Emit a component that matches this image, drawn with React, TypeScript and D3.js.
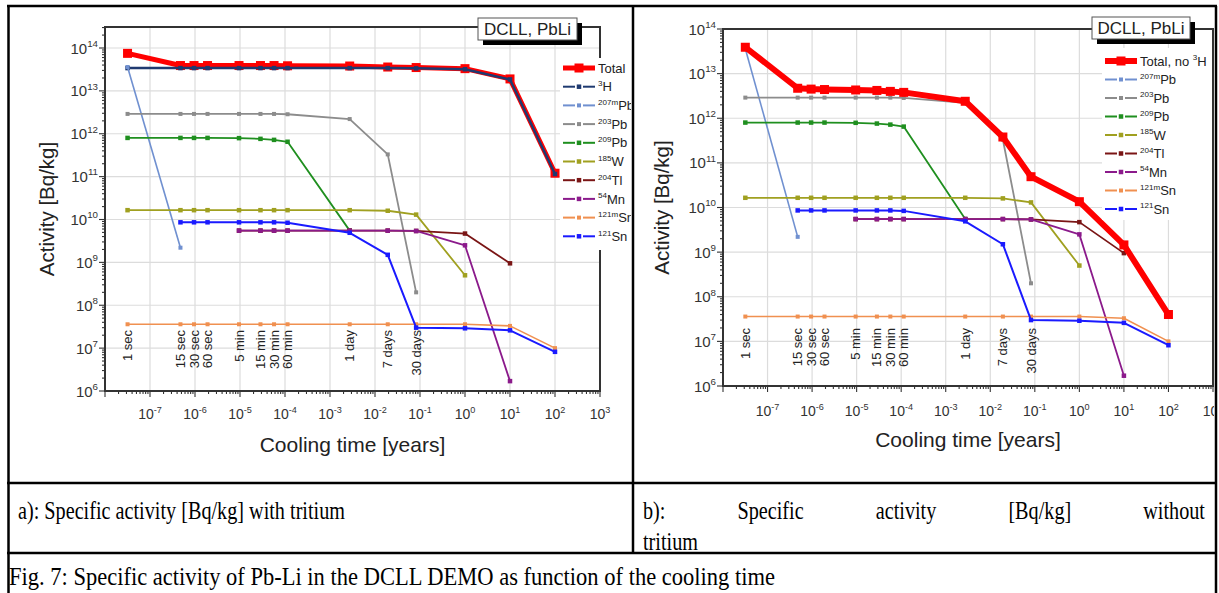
import { useEffect, useRef } from 'react';
import * as d3 from 'd3';

// cooling time in years: 1 s, 15 s, 30 s, 60 s, 5 min, 15 min, 30 min, 60 min, 1 d, 7 d, 30 d, 1 y, 10 y, 100 y
const coolingYears = [3.17e-8, 4.75e-7, 9.51e-7, 1.9e-6, 9.51e-6, 2.85e-5, 5.71e-5, 1.14e-4, 2.74e-3, 1.92e-2, 8.21e-2, 1, 10, 100];
const timeLabels = ['1 sec', '15 sec', '30 sec', '60 sec', '5 min', '15 min', '30 min', '60 min', '1 day', '7 days', '30 days'];

const totalWithH3 = [7.5e13, 3.9e13, 3.9e13, 3.9e13, 3.9e13, 3.9e13, 3.9e13, 3.85e13, 3.8e13, 3.6e13, 3.5e13, 3.3e13, 1.9e13, 1.2e11];
const totalNoH3 = [3.9e13, 4.7e12, 4.5e12, 4.4e12, 4.3e12, 4.2e12, 4.0e12, 3.8e12, 2.4e12, 3.8e11, 4.9e10, 1.35e10, 1.45e9, 4.0e7];
const h3 = [3.4e13, 3.4e13, 3.4e13, 3.4e13, 3.4e13, 3.4e13, 3.4e13, 3.4e13, 3.4e13, 3.4e13, 3.35e13, 3.2e13, 1.85e13, 1.15e11];
const pb207m = [3.6e13, 2.2e9, null, null, null, null, null, null, null, null, null, null, null, null];
const pb203 = [2.9e12, 2.9e12, 2.9e12, 2.9e12, 2.9e12, 2.9e12, 2.9e12, 2.85e12, 2.2e12, 3.3e11, 2.0e8, null, null, null];
const pb209 = [8.0e11, 8.0e11, 8.0e11, 8.0e11, 7.9e11, 7.6e11, 7.2e11, 6.5e11, 5.5e9, null, null, null, null, null];
const w185 = [1.65e10, 1.65e10, 1.65e10, 1.65e10, 1.65e10, 1.65e10, 1.65e10, 1.65e10, 1.65e10, 1.6e10, 1.3e10, 5.0e8, null, null];
const tl204 = [null, null, null, null, 5.5e9, 5.5e9, 5.5e9, 5.5e9, 5.5e9, 5.5e9, 5.4e9, 4.7e9, 9.5e8, null];
const mn54 = [null, null, null, null, 5.5e9, 5.5e9, 5.5e9, 5.5e9, 5.5e9, 5.5e9, 5.4e9, 2.5e9, 1.7e6, null];
const sn121m = [3.6e7, 3.6e7, 3.6e7, 3.6e7, 3.6e7, 3.6e7, 3.6e7, 3.6e7, 3.6e7, 3.6e7, 3.6e7, 3.6e7, 3.3e7, 1.0e7];
const sn121 = [null, 8.6e9, 8.6e9, 8.6e9, 8.6e9, 8.6e9, 8.6e9, 8.4e9, 4.9e9, 1.5e9, 3.0e7, 2.9e7, 2.6e7, 8.2e6];

const yDecades = [6, 7, 8, 9, 10, 11, 12, 13, 14];
const xDecades = [-7, -6, -5, -4, -3, -2, -1, 0, 1, 2, 3];

const captionA = 'a): Specific activity [Bq/kg] with tritium';
const captionBWords = ['b):', 'Specific', 'activity', '[Bq/kg]', 'without'];
const captionBLast = 'tritium';
const figCaption = 'Fig. 7: Specific activity of Pb-Li in the DCLL DEMO as function of the cooling time';

const FONT = 'Liberation Sans, Arial, sans-serif';
const SERIF = 'Liberation Serif, Times New Roman, serif';

const nuclides = [
  { pre: '', sup: '207m', base: 'Pb', values: pb207m, color: '#7090d0', width: 1.6, marker: 4 },
  { pre: '', sup: '203', base: 'Pb', values: pb203, color: '#8c8c8c', width: 1.8, marker: 4 },
  { pre: '', sup: '209', base: 'Pb', values: pb209, color: '#1f8f1f', width: 1.8, marker: 4.5 },
  { pre: '', sup: '185', base: 'W', values: w185, color: '#a0a020', width: 1.8, marker: 4.5 },
  { pre: '', sup: '204', base: 'Tl', values: tl204, color: '#7a1515', width: 1.8, marker: 4.5 },
  { pre: '', sup: '54', base: 'Mn', values: mn54, color: '#8b1a8b', width: 1.8, marker: 4.5 },
  { pre: '', sup: '121m', base: 'Sn', values: sn121m, color: '#f09050', width: 1.6, marker: 4 },
  { pre: '', sup: '121', base: 'Sn', values: sn121, color: '#1a1aff', width: 2, marker: 4.5 },
];

const totalA = { pre: 'Total', sup: '', base: '', values: totalWithH3, color: '#ff0000', width: 5, marker: 9 };
const tritium = { pre: '', sup: '3', base: 'H', values: h3, color: '#1f3a70', width: 2.5, marker: 4.5 };
const totalB = { pre: 'Total, no ', sup: '3', base: 'H', values: totalNoH3, color: '#ff0000', width: 6, marker: 9 };

const charts = [
  {
    id: 'a', clip: [10, 8, 621, 474], left: 105, right: 600, top: 27, bottom: 391, y6: 391, y14: 48,
    draw: [totalA, tritium, ...nuclides], legendItems: [totalA, tritium, ...nuclides],
    legend: { x: 563, y: 68, step: 18.7, font: 13, box: [560, 58, 80, 192] },
    title: { x: 478, y: 18, w: 99, h: 22 }, timeTop: 330, tickY: 419, xTitleY: 452, yTitleX: 47,
  },
  {
    id: 'b', clip: [635, 8, 579, 474], left: 723, right: 1213, top: 29, bottom: 386, y6: 386, y14: 29,
    draw: [...nuclides, totalB], legendItems: [totalB, ...nuclides],
    legend: { x: 1105, y: 61, step: 18.5, font: 13, box: [1102, 48, 110, 172] },
    title: { x: 1092, y: 17, w: 98, h: 22 }, timeTop: 328, tickY: 416, xTitleY: 447, yTitleX: 662,
  },
];

const addLabel = (t, item, size) => {
  if (item.pre) t.append('tspan').text(item.pre);
  if (item.sup) t.append('tspan').attr('font-size', size * 0.62).attr('dy', -size * 0.4).text(item.sup);
  if (item.base) t.append('tspan').attr('dy', item.sup ? size * 0.4 : 0).text(item.base);
};

const addPow = (t, e, size) => {
  t.append('tspan').text('10');
  t.append('tspan').attr('font-size', size * 0.65).attr('dy', -size * 0.45).text(String(e));
};

const drawChart = (root, c) => {
  const g = root.append('g').attr('clip-path', `url(#clip-${c.id})`);
  root.append('clipPath').attr('id', `clip-${c.id}`)
    .append('rect').attr('x', c.clip[0]).attr('y', c.clip[1]).attr('width', c.clip[2]).attr('height', c.clip[3]);

  const x = d3.scaleLog().domain([1e-8, 1e3]).range([c.left, c.right]);
  const y = d3.scaleLog().domain([1e6, 1e14]).range([c.y6, c.y14]);

  // grid
  xDecades.filter(e => e < 3).forEach(e => {
    g.append('line').attr('x1', x(10 ** e)).attr('x2', x(10 ** e)).attr('y1', c.top).attr('y2', c.bottom)
      .attr('stroke', '#dcdcdc').attr('stroke-width', 1.2);
  });
  yDecades.filter(e => e > 6 && y(10 ** e) > c.top + 1).forEach(e => {
    g.append('line').attr('x1', c.left).attr('x2', c.right).attr('y1', y(10 ** e)).attr('y2', y(10 ** e))
      .attr('stroke', '#dcdcdc').attr('stroke-width', 1.2);
  });

  // time labels
  timeLabels.forEach((lab, i) => {
    g.append('text').attr('transform', `translate(${x(coolingYears[i])},${c.timeTop}) rotate(-90)`)
      .attr('text-anchor', 'end').attr('dy', '0.35em')
      .attr('font-family', FONT).attr('font-size', 13).attr('fill', '#222').text(lab);
  });

  // series
  const line = d3.line().x(d => x(d[0])).y(d => y(d[1]));
  c.draw.forEach(s => {
    const pts = coolingYears.map((t, i) => [t, s.values[i]]).filter(d => d[1] != null);
    g.append('path').attr('d', line(pts)).attr('fill', 'none').attr('stroke', s.color)
      .attr('stroke-width', s.width).attr('stroke-linejoin', 'round');
    g.selectAll(null).data(pts).enter().append('rect')
      .attr('x', d => x(d[0]) - s.marker / 2).attr('y', d => y(d[1]) - s.marker / 2)
      .attr('width', s.marker).attr('height', s.marker).attr('fill', s.color);
  });

  // axes frame
  const ax = '#333';
  g.append('rect').attr('x', c.left).attr('y', c.top).attr('width', c.right - c.left).attr('height', c.bottom - c.top)
    .attr('fill', 'none').attr('stroke', ax).attr('stroke-width', 2);

  // y ticks
  yDecades.forEach(e => {
    for (let m = 1; m < 10; m++) {
      const v = m * 10 ** e;
      const py = y(v);
      if (py < c.top - 0.5 || py > c.bottom + 0.5) continue;
      g.append('line').attr('x1', c.left - (m === 1 ? 6 : 3)).attr('x2', c.left).attr('y1', py).attr('y2', py)
        .attr('stroke', ax).attr('stroke-width', 1.1);
    }
    const t = g.append('text').attr('x', c.left - 7).attr('y', y(10 ** e) + 5.5).attr('text-anchor', 'end')
      .attr('font-family', FONT).attr('font-size', 15).attr('fill', '#333');
    addPow(t, e, 15);
  });

  // x ticks
  [-8, ...xDecades].forEach(e => {
    for (let m = 1; m < 10; m++) {
      const v = m * 10 ** e;
      if (v > 1e3 * 1.0001) continue;
      const px = x(v);
      g.append('line').attr('x1', px).attr('x2', px).attr('y1', c.bottom).attr('y2', c.bottom + (m === 1 ? 6 : 3))
        .attr('stroke', ax).attr('stroke-width', 1.1);
    }
  });
  xDecades.forEach(e => {
    const t = g.append('text').attr('x', x(10 ** e)).attr('y', c.tickY).attr('text-anchor', 'middle')
      .attr('font-family', FONT).attr('font-size', 14).attr('fill', '#333');
    addPow(t, e, 14);
  });

  // axis titles
  g.append('text').attr('x', (c.left + c.right) / 2).attr('y', c.xTitleY).attr('text-anchor', 'middle')
    .attr('font-family', FONT).attr('font-size', 21).attr('fill', '#222').text('Cooling time [years]');
  g.append('text').attr('transform', `translate(${c.yTitleX},${(c.top + c.bottom) / 2}) rotate(-90)`)
    .attr('text-anchor', 'middle').attr('dy', '0.35em')
    .attr('font-family', FONT).attr('font-size', 20.5).attr('fill', '#222').text('Activity [Bq/kg]');

  // legend
  const L = c.legend;
  g.append('rect').attr('x', L.box[0]).attr('y', L.box[1]).attr('width', L.box[2]).attr('height', L.box[3]).attr('fill', '#fff');
  c.legendItems.forEach((s, i) => {
    const ly = L.y + i * L.step;
    const big = s.width > 3;
    if (big) {
      g.append('line').attr('x1', L.x).attr('x2', L.x + 32).attr('y1', ly).attr('y2', ly)
        .attr('stroke', s.color).attr('stroke-width', s.width);
    } else {
      g.append('line').attr('x1', L.x).attr('x2', L.x + 12).attr('y1', ly).attr('y2', ly)
        .attr('stroke', s.color).attr('stroke-width', 2);
      g.append('line').attr('x1', L.x + 20).attr('x2', L.x + 32).attr('y1', ly).attr('y2', ly)
        .attr('stroke', s.color).attr('stroke-width', 2);
    }
    g.append('rect').attr('x', L.x + 16 - s.marker / 2).attr('y', ly - s.marker / 2)
      .attr('width', s.marker).attr('height', s.marker).attr('fill', s.color);
    const t = g.append('text').attr('x', L.x + 35).attr('y', ly + L.font * 0.36)
      .attr('font-family', FONT).attr('font-size', L.font).attr('fill', '#222');
    addLabel(t, s, L.font);
  });

  // title box with shadow
  const T = c.title;
  g.append('rect').attr('x', T.x + 5).attr('y', T.y + 5).attr('width', T.w).attr('height', T.h).attr('fill', '#000');
  g.append('rect').attr('x', T.x).attr('y', T.y).attr('width', T.w).attr('height', T.h)
    .attr('fill', '#fff').attr('stroke', '#555').attr('stroke-width', 1);
  g.append('text').attr('x', T.x + T.w / 2).attr('y', T.y + T.h / 2 + 6).attr('text-anchor', 'middle')
    .attr('font-family', FONT).attr('font-size', 17).attr('fill', '#222').text('DCLL, PbLi');
};

const App = () => {
  const svgRef = useRef(null);

  useEffect(() => {
    const svg = d3.select(svgRef.current);
    svg.selectAll('*').remove();
    svg.append('rect').attr('width', 1219).attr('height', 593).attr('fill', '#fff');

    charts.forEach(c => drawChart(svg, c));

    // table rules
    const rule = (x1, y1, x2, y2) => svg.append('line').attr('x1', x1).attr('y1', y1).attr('x2', x2).attr('y2', y2)
      .attr('stroke', '#000').attr('stroke-width', 2.5);
    rule(7, 6, 1217, 6);
    rule(8.5, 6, 8.5, 593);
    rule(1216, 6, 1216, 593);
    rule(633, 6, 633, 553);
    rule(7, 483, 1217, 483);
    rule(7, 553, 1217, 553);

    // captions: condensed Times, same squeeze for every cell, b) justified
    const txt = (x, yy, s) => svg.append('text').attr('x', x).attr('y', yy).attr('font-family', SERIF)
      .attr('font-size', 25).attr('fill', '#000').text(s);
    const a = txt(18, 519, captionA);
    const k = 327 / a.node().getComputedTextLength();
    a.attr('textLength', 327).attr('lengthAdjust', 'spacingAndGlyphs');

    const words = captionBWords.map(w => txt(0, 519, w));
    const widths = words.map(w => w.node().getComputedTextLength() * k);
    const gap = (1205 - 643 - d3.sum(widths)) / (words.length - 1);
    let cx = 643;
    words.forEach((w, i) => {
      w.attr('x', cx).attr('textLength', widths[i]).attr('lengthAdjust', 'spacingAndGlyphs');
      cx += widths[i] + gap;
    });
    const last = txt(643, 550, captionBLast);
    last.attr('textLength', last.node().getComputedTextLength() * k).attr('lengthAdjust', 'spacingAndGlyphs');

    txt(9, 585, figCaption).attr('textLength', 766).attr('lengthAdjust', 'spacingAndGlyphs');
  }, []);

  return (
    <svg ref={svgRef} width={1219} height={593}
      style={{ position: 'absolute', left: 0, top: 0, display: 'block' }} />
  );
};

export default App;
